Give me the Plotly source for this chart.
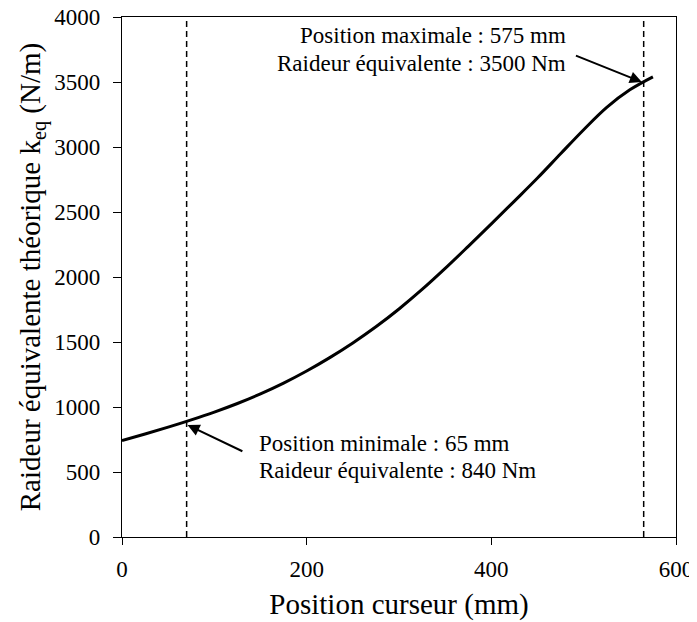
import plotly.graph_objects as go

# Curve data
position_mm = [0, 25, 50, 75, 100, 125, 150, 175, 200, 225, 250, 275, 300,
               325, 350, 375, 400, 425, 450, 475, 500, 525, 550, 575]
raideur_keq = [741, 792, 845, 901, 961, 1027, 1101, 1184, 1277, 1380, 1493, 1617, 1754,
               1904, 2066, 2236, 2409, 2584, 2761, 2948, 3133, 3305, 3440, 3540]

# Limit positions (dashed vertical lines)
limit_positions = [70, 565]

x_ticks = [0, 200, 400, 600]
y_ticks = [0, 500, 1000, 1500, 2000, 2500, 3000, 3500, 4000]

FONT = "Liberation Serif"

fig = go.Figure()
fig.add_trace(go.Scatter(x=position_mm, y=raideur_keq, mode="lines",
                         line=dict(color="black", width=3, shape="spline", smoothing=1.0),
                         showlegend=False, hoverinfo="skip"))

shapes = []
for xp in limit_positions:
    shapes.append(dict(type="line", xref="x", yref="paper", x0=xp, x1=xp, y0=0, y1=1,
                       line=dict(color="black", width=1.5, dash="6px,4px")))

ann_font = dict(family=FONT, size=23, color="black")
annotations = [
    dict(x=483, y=3854, xref="x", yref="y", text="Position maximale : 575 mm",
         showarrow=False, xanchor="right", yanchor="middle", font=ann_font),
    dict(x=483, y=3646, xref="x", yref="y", text="Raideur équivalente : 3500 Nm",
         showarrow=False, xanchor="right", yanchor="middle", font=ann_font),
    dict(x=563, y=3500, ax=490, ay=3708, xref="x", yref="y", axref="x", ayref="y",
         text="", showarrow=True, arrowhead=2, arrowsize=1.2, arrowwidth=2, arrowcolor="black"),
    dict(x=146, y=723, xref="x", yref="y", text="Position minimale : 65 mm",
         showarrow=False, xanchor="left", yanchor="middle", font=ann_font),
    dict(x=146, y=515, xref="x", yref="y", text="Raideur équivalente : 840 Nm",
         showarrow=False, xanchor="left", yanchor="middle", font=ann_font),
    dict(x=71, y=862, ax=132, ay=654, xref="x", yref="y", axref="x", ayref="y",
         text="", showarrow=True, arrowhead=2, arrowsize=1.2, arrowwidth=2, arrowcolor="black"),
]

# The page body adds an 8px offset, so the figure is 8px smaller than the window
fig.update_layout(
    width=689, height=614,
    margin=dict(l=114, r=21, t=9, b=85, pad=0),
    paper_bgcolor="white", plot_bgcolor="white",
    font=dict(family=FONT, size=23, color="black"),
    shapes=shapes, annotations=annotations,
    xaxis=dict(range=[0, 600], tickvals=x_ticks, ticktext=[str(v) for v in x_ticks],
               automargin=False, ticklabelstandoff=4, ticklabeloverflow="allow",
               showgrid=False, zeroline=False, showline=True, linecolor="black", linewidth=1.3,
               mirror=True, ticks="outside", ticklen=7, tickcolor="black", tickwidth=1.3,
               tickfont=dict(family=FONT, size=23),
               title=dict(text="Position curseur (mm)", font=dict(family=FONT, size=29), standoff=12)),
    yaxis=dict(range=[0, 4000], tickvals=y_ticks, ticktext=[str(v) for v in y_ticks],
               automargin=False, ticklabelstandoff=8, ticklabeloverflow="allow",
               showgrid=False, zeroline=False, showline=True, linecolor="black", linewidth=1.3,
               mirror=True, ticks="outside", ticklen=8, tickcolor="black", tickwidth=1.3,
               tickfont=dict(family=FONT, size=23),
               title=dict(text="Raideur équivalente théorique k<sub>eq</sub> (N/m)",
                          font=dict(family=FONT, size=29), standoff=5)),
)

fig.write_html("out.html")
